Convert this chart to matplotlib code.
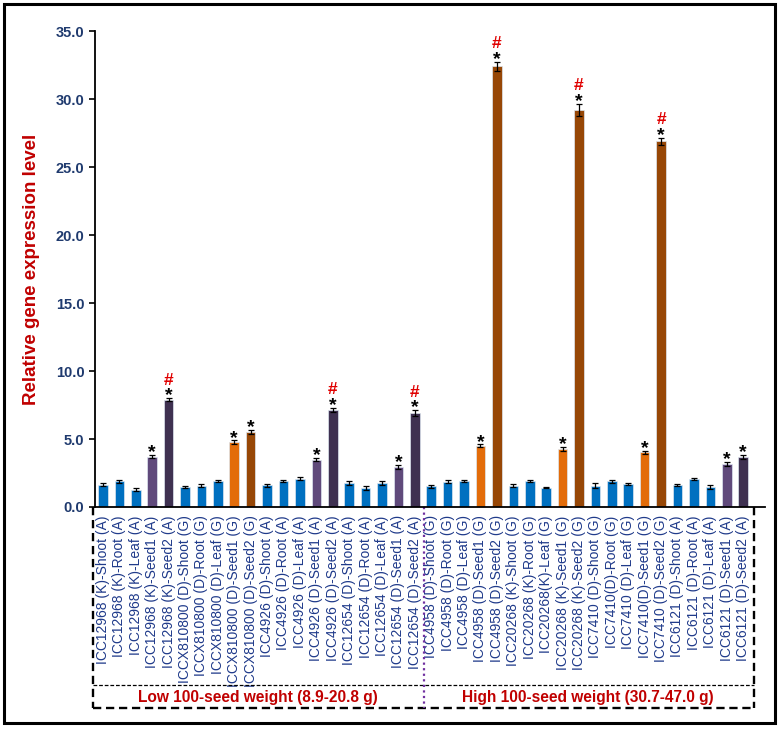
import matplotlib
matplotlib.use("Agg")
import matplotlib.pyplot as plt
from matplotlib.lines import Line2D
from matplotlib.patches import Rectangle

plt.rcParams['font.family'] = ['Liberation Sans', 'DejaVu Sans']

# data
genotypes = ["ICC12968 (K)", "ICCX810800 (D)", "ICC4926 (D)", "ICC12654 (D)",
             "ICC4958 (D)", "ICC20268 (K)", "ICC7410 (D)", "ICC6121 (D)"]

labels = [
    "ICC12968 (K)-Shoot (A)", "ICC12968 (K)-Root (A)", "ICC12968 (K)-Leaf (A)",
    "ICC12968 (K)-Seed1 (A)", "ICC12968 (K)-Seed2 (A)",
    "ICCX810800 (D)-Shoot (G)", "ICCX810800 (D)-Root (G)", "ICCX810800 (D)-Leaf (G)",
    "ICCX810800 (D)-Seed1 (G)", "ICCX810800 (D)-Seed2 (G)",
    "ICC4926 (D)-Shoot (A)", "ICC4926 (D)-Root (A)", "ICC4926 (D)-Leaf (A)",
    "ICC4926 (D)-Seed1 (A)", "ICC4926 (D)-Seed2 (A)",
    "ICC12654 (D)-Shoot (A)", "ICC12654 (D)-Root (A)", "ICC12654 (D)-Leaf (A)",
    "ICC12654 (D)-Seed1 (A)", "ICC12654 (D)-Seed2 (A)",
    "ICC4958 (D)-Shoot (G)", "ICC4958 (D)-Root (G)", "ICC4958 (D)-Leaf (G)",
    "ICC4958 (D)-Seed1 (G)", "ICC4958 (D)-Seed2 (G)",
    "ICC20268 (K)-Shoot (G)", "ICC20268 (K)-Root (G)", "ICC20268(K)-Leaf (G)",
    "ICC20268 (K)-Seed1 (G)", "ICC20268 (K)-Seed2 (G)",
    "ICC7410 (D)-Shoot (G)", "ICC7410(D)-Root (G)", "ICC7410 (D)-Leaf (G)",
    "ICC7410(D)-Seed1 (G)", "ICC7410 (D)-Seed2 (G)",
    "ICC6121 (D)-Shoot (A)", "ICC6121 (D)-Root (A)", "ICC6121 (D)-Leaf (A)",
    "ICC6121 (D)-Seed1 (A)", "ICC6121 (D)-Seed2 (A)",
]

values = [1.65, 1.88, 1.28, 3.70, 7.90,
          1.47, 1.58, 1.92, 4.78, 5.52,
          1.60, 1.92, 2.08, 3.47, 7.15,
          1.76, 1.42, 1.79, 2.95, 6.92,
          1.52, 1.85, 1.92, 4.50, 32.4,
          1.58, 1.90, 1.43, 4.27, 29.2,
          1.55, 1.90, 1.68, 4.02, 26.9,
          1.63, 2.08, 1.48, 3.15, 3.68]

errors = [0.12, 0.08, 0.10, 0.12, 0.10,
          0.10, 0.10, 0.10, 0.12, 0.15,
          0.10, 0.10, 0.10, 0.12, 0.15,
          0.15, 0.15, 0.15, 0.12, 0.20,
          0.10, 0.10, 0.10, 0.10, 0.35,
          0.10, 0.08, 0.06, 0.12, 0.45,
          0.18, 0.12, 0.05, 0.10, 0.25,
          0.06, 0.06, 0.15, 0.15, 0.12]

tissue = ["Shoot", "Root", "Leaf", "Seed1", "Seed2"]
group_type = ["A", "G", "A", "A", "G", "G", "G", "A"]   # per genotype

star_idx = [3, 4, 8, 9, 13, 14, 18, 19, 23, 24, 28, 29, 33, 34, 38, 39]
hash_idx = [4, 14, 19, 24, 29, 34]

groups = ["Low 100-seed weight (8.9-20.8 g)", "High 100-seed weight (30.7-47.0 g)"]

# colours
blue = "#0070C0"
seed_colors = {("A", "Seed1"): "#604A7B", ("A", "Seed2"): "#3F3151",
               ("G", "Seed1"): "#E36C09", ("G", "Seed2"): "#974706"}

colors = []
for g in range(len(genotypes)):
    for t in tissue:
        colors.append(seed_colors.get((group_type[g], t), blue))

W, H = 780, 729
fig = plt.figure(figsize=(W / 100, H / 100), dpi=100)
ax = fig.add_axes([94.7 / W, 1 - 507 / H, (765 - 94.7) / W, 476 / H])

x = list(range(len(values)))
ax.bar(x, values, width=0.58, color=colors, edgecolor="#DDE6F0", linewidth=0.5,
       yerr=errors, error_kw=dict(ecolor="black", elinewidth=0.9, capsize=2.5, capthick=0.9))

for i in star_idx:
    ax.annotate("*", (i, values[i] + errors[i]), xytext=(0, -4.5), textcoords="offset points",
                ha="center", va="bottom", fontsize=14, fontweight="bold", color="black")
for i in hash_idx:
    ax.annotate("#", (i, values[i] + errors[i]), xytext=(0, 7.5), textcoords="offset points",
                ha="center", va="bottom", fontsize=12.5, fontweight="bold", color="#E00000")

ax.set_xlim(-0.5, 40.33)
ax.set_ylim(0, 35)
ax.set_yticks([0, 5, 10, 15, 20, 25, 30, 35])
ax.set_yticklabels([f"{v:.1f}" for v in ax.get_yticks()], fontsize=10.5, fontweight="bold",
                   color="#1F3A6E")
ax.set_xticks(x)
ax.set_xticklabels(labels, rotation=90, fontsize=10, color="#1F3A8A", va="top")
ax.tick_params(axis="x", length=0, pad=6)
ax.tick_params(axis="y", length=4, width=1.2, direction="out")
ax.spines["top"].set_visible(False)
ax.spines["right"].set_visible(False)
ax.spines["left"].set_linewidth(1.3)
ax.spines["bottom"].set_linewidth(1.3)

ax.set_ylabel("Relative gene expression level", fontsize=13.5, fontweight="bold",
              color="#C00000", labelpad=11)

# dashed group box below the axis
tr = ax.get_xaxis_transform()
kw = dict(transform=tr, clip_on=False, color="black", linestyle=(0, (3.5, 2)), linewidth=1.7)
x0, x1 = -0.6, 39.67
ax.add_line(Line2D([x0, x0], [0, -0.422], **kw))
ax.add_line(Line2D([x1, x1], [0, -0.422], **kw))
ax.add_line(Line2D([x0, x1], [-0.422, -0.422], **kw))
ax.add_line(Line2D([x0, x1], [-0.374, -0.374], color="black", linestyle=(0, (3, 1.5)),
                   linewidth=0.9, transform=tr, clip_on=False))
ax.add_line(Line2D([19.55, 19.55], [0, -0.422], color="#7030A0", linestyle=(0, (1, 1.5)),
                   linewidth=1.6, transform=tr, clip_on=False))
ax.text(9.45, -0.400, groups[0], transform=tr, ha="center", va="center", fontsize=11.2,
        fontweight="bold", color="#C00000")
ax.text(29.55, -0.400, groups[1], transform=tr, ha="center", va="center", fontsize=11.2,
        fontweight="bold", color="#C00000")

# outer frame
fig.add_artist(Rectangle((4 / W, 1 - 723 / H), (775 - 4) / W, (723 - 4) / H,
                         transform=fig.transFigure, fill=False, edgecolor="black", linewidth=2.2))

fig.savefig("out.png", dpi=100)
